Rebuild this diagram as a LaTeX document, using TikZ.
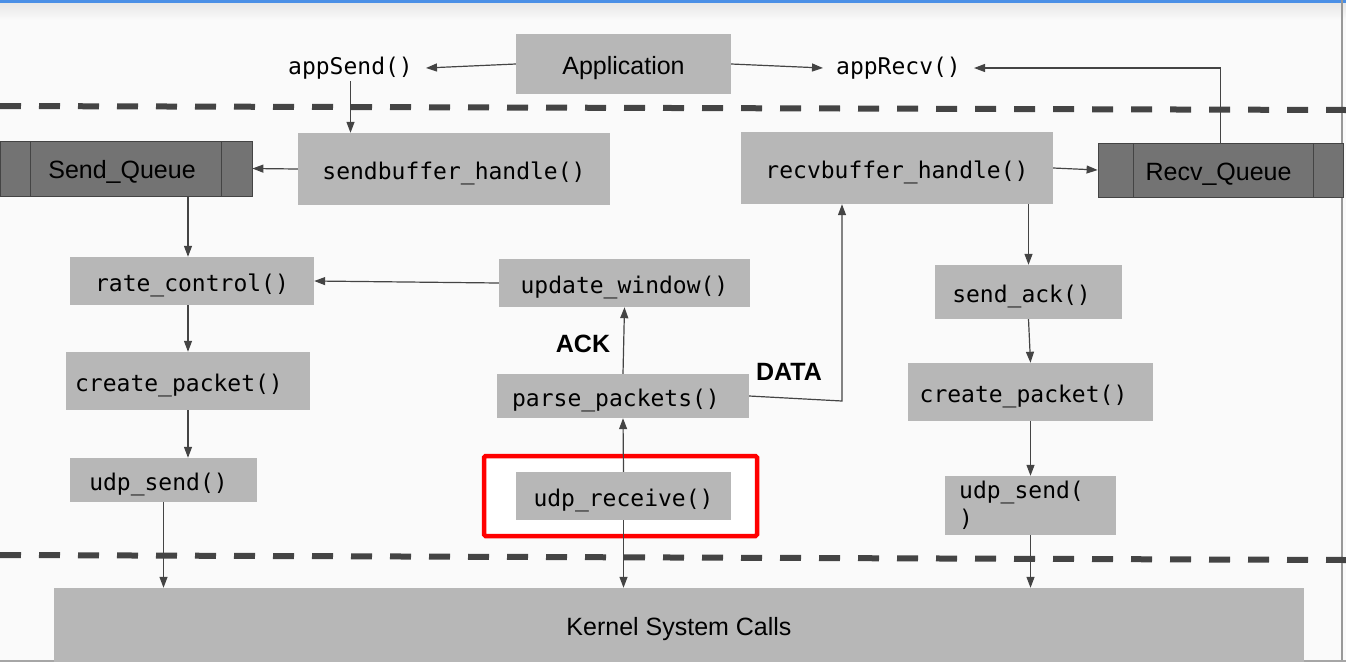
\documentclass[tikz,border=0pt]{standalone}
\usepackage{fontspec}
\setmainfont{Liberation Sans}
\newfontfamily\monof{DejaVu Sans Mono}
\usetikzlibrary{arrows.meta}
\definecolor{bg}{HTML}{FAFAFA}
\definecolor{boxg}{HTML}{B7B7B7}
\definecolor{qg}{HTML}{737373}
\definecolor{ln}{HTML}{444444}
\definecolor{topblue}{HTML}{4A8FE6}
\begin{document}
\begin{tikzpicture}[x=1pt,y=-1pt,
  fbase/.style={fill=boxg, draw=none, inner sep=0pt, font=\monof\fontsize{23}{28}\selectfont},
  fbox/.style={fbase, text height=25pt, text depth=3.5pt},
  sbox/.style={fill=boxg, draw=none, inner sep=0pt, text height=25pt, text depth=5pt, font=\fontsize{25}{30}\selectfont},
  qbox/.style={fill=qg, draw=ln, line width=0.8pt, inner sep=0pt, text height=25pt, text depth=5pt, font=\fontsize{25}{30}\selectfont},
  ftext/.style={inner xsep=13pt, inner ysep=2pt, font=\monof\fontsize{23}{28}\selectfont},
  lbl/.style={inner sep=0pt, font=\bfseries\fontsize{25}{30}\selectfont},
  conn/.style={draw=ln, line width=1.2pt, -{Triangle[length=11pt,width=8pt]}},
  sepline/.style={draw=ln, line width=6pt, dash pattern=on 21pt off 18pt},
]
\useasboundingbox (0,0) rectangle (1346,662);
% background
\fill[bg] (0,0) rectangle (1346,662);
\shade[top color=black!10, bottom color=bg] (0,2) rectangle (1346,20);
\fill[topblue] (0,0) rectangle (1346,2.5);
\draw[black!40, line width=2pt] (1342,0) -- (1342,662);
\draw[black!35, line width=1.5pt] (0,661) -- (1346,661);

% separators
\draw[sepline] (0,106) -- (1346,110);
\draw[sepline] (0,555) -- (1346,560);

% highlight box
\node[draw=red, fill=white, line width=4.5pt, rounded corners=1.5pt, minimum width=273, minimum height=80, inner sep=0pt] (hl) at (620.5,496) {};

% nodes
\node[sbox, minimum width=215, minimum height=60] (app) at (623.5,64) {Application};
\node[ftext] (aps) at (350.5,68) {appSend()};
\node[ftext] (apr) at (898.5,68) {appRecv()};

\node[qbox, minimum width=252, minimum height=55] (sq) at (126,168.5) {\hspace*{-8pt}Send\_Queue};
\draw[ln, line width=0.8pt] (30,141) -- (30,196) (221,141) -- (221,196);
\node[fbox, minimum width=312, minimum height=72] (sbh) at (454,169) {sendbuffer\_handle()};
\node[fbox, minimum width=312, minimum height=72] (rbh) at (897,168) {recvbuffer\_handle()};
\node[qbox, minimum width=245, minimum height=54] (rq) at (1220.5,170) {\hspace*{-4pt}Recv\_Queue};
\draw[ln, line width=0.8pt] (1133,143) -- (1133,197) (1313,143) -- (1313,197);

\node[fbox, minimum width=244, minimum height=48] (rc) at (192,281) {rate\_control()};
\node[fbox, minimum width=251, minimum height=48] (uw) at (624.5,283) {update\_window()};
\node[fbox, minimum width=244, minimum height=58] (cpl) at (188,381) {\hspace*{-18pt}create\_packet()};
\node[fbox, minimum width=252, minimum height=44] (pp) at (623,396) {\hspace*{-14pt}parse\_packets()};
\node[fbox, minimum width=187, minimum height=44] (usl) at (163.5,480) {\hspace*{-10pt}udp\_send()};
\node[fbox, minimum width=215, minimum height=48] (ur) at (623.5,496) {udp\_receive()};

\node[fbox, minimum width=187, minimum height=54] (sa) at (1028.5,292) {\hspace*{-14pt}send\_ack()};
\node[fbox, minimum width=245, minimum height=58] (cpr) at (1030.5,392) {\hspace*{-14pt}create\_packet()};
\node[fbase, minimum width=171, minimum height=59, align=left] (usr) at (1030.5,505.5) {\hspace*{-18pt}udp\_send(\\\hspace*{-18pt})};

\node[sbox, minimum width=1250, minimum height=74] (ker) at (679,625) {Kernel System Calls};

\node[lbl] (ack) at (583,344) {ACK};
\node[lbl] (data) at (789,372) {DATA};
\coordinate (dc) at (842,401);

% connectors
\draw[conn] (app.west) -- (aps.east);
\draw[conn] (app.east) -- (apr.west);
\draw[conn] (aps.south) -- (sbh.north -| aps.south);
\draw[conn] (sbh.west) -- (sq.east);
\draw[conn] (sq.south -| cpl.north) -- (cpl.north |- rc.north);
\draw[conn] (uw.west) -- (rc.east);
\draw[conn] (rc.south -| cpl.north) -- (cpl.north);
\draw[conn] (cpl.south) -- (cpl.south |- usl.north);
\draw[conn] (usl.south) -- (usl.south |- ker.north);
\draw[conn] (ur.north) -- (pp.south);
\draw[conn] (pp.north) -- (uw.south);
\draw[conn] (ur.south) -- (ur.south |- ker.north);
\draw[conn] (pp.east) -- (dc) -- (dc |- rbh.south);
\draw[conn] (rbh.east) -- (rq.west);
\draw[conn] (rq.north) |- (apr.east);
\draw[conn] (rbh.south -| sa.north) -- (sa.north);
\draw[conn] (sa.south) -- (cpr.north);
\draw[conn] (cpr.south) -- (usr.north);
\draw[conn] (usr.south) -- (usr.south |- ker.north);
\end{tikzpicture}
\end{document}
